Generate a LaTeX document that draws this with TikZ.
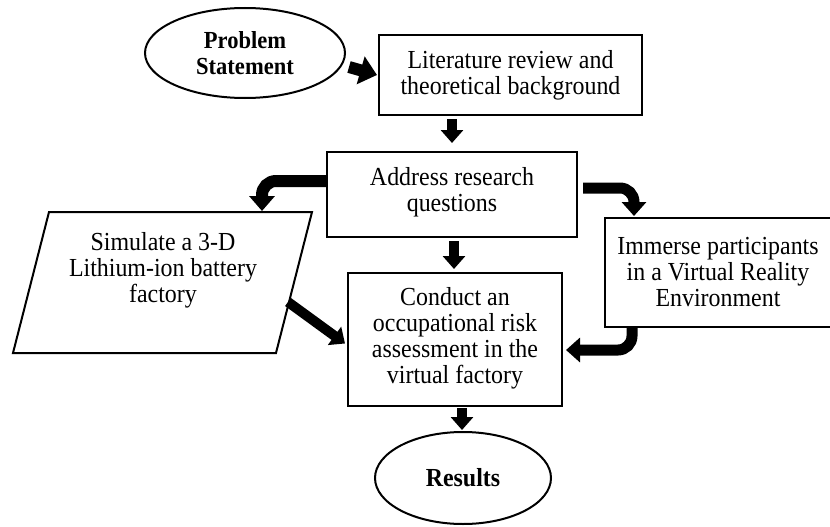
\documentclass[tikz,border=0pt]{standalone}
\usepackage{fontspec}
\setmainfont[FakeStretch=0.92]{Liberation Serif}
\usetikzlibrary{arrows.meta,shapes.geometric,calc}
\begin{document}
\begin{tikzpicture}[x=1pt,y=-1pt,
  box/.style={draw,line width=2pt,align=center,inner sep=0pt,font=\fontsize{26}{26}\selectfont},
  oval/.style={draw,ellipse,line width=2pt,align=center,inner sep=0pt,font=\fontsize{24.5}{25.5}\selectfont\bfseries},
  txt/.style={align=center,inner sep=0pt,font=\fontsize{26}{26}\selectfont},
  blk/.style={line width=10pt,-{Triangle[width=22pt,length=13pt]}},
]
\useasboundingbox[fill=white] (0,0) rectangle (830,527);

% nodes
\node[oval,minimum width=200,minimum height=90] (ps) at (245,53) {Problem\\Statement};
\node[box,minimum width=263,minimum height=80] (lit) at (510.5,75) {Literature review and\\theoretical background};
\node[box,minimum width=250,minimum height=85] (addr) at (452,194.5) {Address research\\questions\rule[-10pt]{0pt}{1pt}};
\node[box,minimum width=226,minimum height=109] (imm) at (718,272.5) {Immerse participants\\in a Virtual Reality\\Environment};
\node[box,minimum width=214,minimum height=133] (cond) at (455,339.5) {Conduct an\\occupational risk\\assessment in the\\virtual factory\rule[-8pt]{0pt}{1pt}};
\node[oval,minimum width=176,minimum height=92,font=\fontsize{26}{26}\selectfont\bfseries] (res) at (463,478) {Results};

% parallelogram
\coordinate (sA) at (49,212);
\coordinate (sB) at (312,212);
\coordinate (sC) at (276,353);
\coordinate (sD) at (13,353);
\draw[line width=2pt,line join=miter] (sA) -- (sB) -- (sC) -- (sD) -- cycle;
\node[txt] (sim) at (163,270) {Simulate a 3-D\\Lithium-ion battery\\factory};
\coordinate (simtop) at (262,211);
\coordinate (simright) at (288,302);

% connectors
\draw[blk,line width=12pt,-{Triangle[width=28pt,length=17pt]}] ($(ps.east)+(3,14)$) -- ($(lit.west)+(-1,0)$);
\draw[blk] ($(lit.south)+(-58.5,3)$) -- ($(addr.north)+(0,-8)$);
\draw[blk,line width=12pt,rounded corners=14pt,-{Triangle[width=25pt,length=15pt]}] ($(addr.west)+(0,-13.5)$) -| (simtop);
\draw[blk,line width=11pt,rounded corners=14pt,-{Triangle[width=24pt,length=14pt]}] ($(addr.east)+(5,-6.5)$) -| ($(imm.north west)+(30,-1)$);
\draw[blk] ($(addr.south)+(2,3)$) -- ($(cond.north)+(-1,-3)$);
\draw[blk] (simright) -- ($(cond.west)+(-2,4)$);
\draw[blk,line width=11pt,rounded corners=14pt,-{Triangle[width=24pt,length=14pt]}] ($(imm.south west)+(28,0)$) |- ($(cond.east)+(3,10.5)$);
\draw[blk] ($(cond.south)+(7,1)$) -- ($(res.north)+(-1,-1)$);
\end{tikzpicture}
\end{document}
